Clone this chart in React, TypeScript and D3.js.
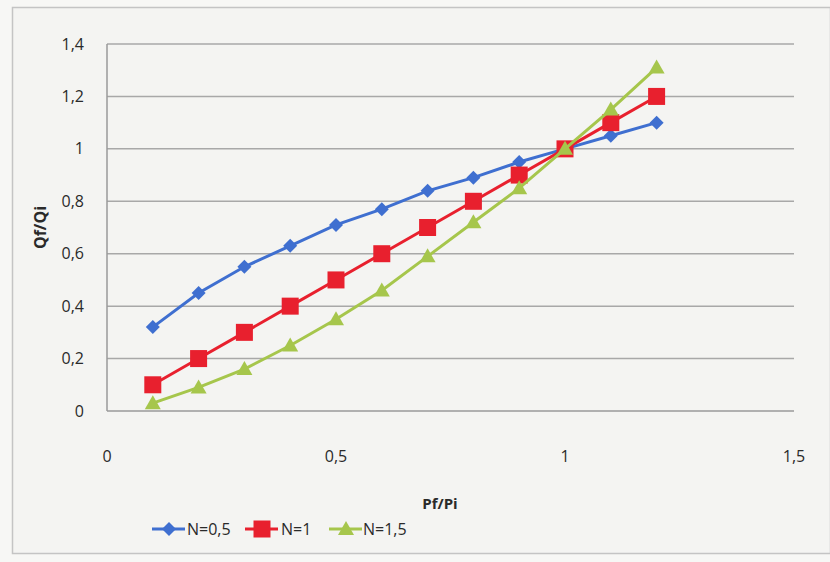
import React from "react";
import * as d3 from "d3";

const xValues = [0.1, 0.2, 0.3, 0.4, 0.5, 0.6, 0.7, 0.8, 0.9, 1.0, 1.1, 1.2];
const seriesN05 = [0.32, 0.45, 0.55, 0.63, 0.71, 0.77, 0.84, 0.89, 0.95, 1.0, 1.05, 1.1];
const seriesN1 = [0.1, 0.2, 0.3, 0.4, 0.5, 0.6, 0.7, 0.8, 0.9, 1.0, 1.1, 1.2];
const seriesN15 = [0.03, 0.09, 0.16, 0.25, 0.35, 0.46, 0.59, 0.72, 0.85, 1.0, 1.15, 1.31];
const seriesNames = ["N=0,5", "N=1", "N=1,5"];
const yTicks = [0, 0.2, 0.4, 0.6, 0.8, 1, 1.2, 1.4];
const xTicks = [0, 0.5, 1, 1.5];
const colors = ["#3f6fd0", "#e8202e", "#a6c64c"];

const fmt = (v: number) => String(v).replace(".", ",");
const FONT = "'Open Sans', 'Noto Sans', sans-serif";

function Marker({ kind, x, y, color }: { kind: number; x: number; y: number; color: string }) {
  if (kind === 0) {
    const s = 7;
    return <path d={`M${x},${y - s}L${x + s},${y}L${x},${y + s}L${x - s},${y}Z`} fill={color} />;
  }
  if (kind === 1) {
    const s = 8.5;
    return <rect x={x - s} y={y - s} width={2 * s} height={2 * s} fill={color} />;
  }
  const s = 8;
  return <path d={`M${x},${y - s}L${x + s},${y + s * 0.75}L${x - s},${y + s * 0.75}Z`} fill={color} />;
}

export default function App() {
  const W = 830, H = 562;
  const x = d3.scaleLinear().domain([0, 1.5]).range([107, 794]);
  const y = d3.scaleLinear().domain([0, 1.4]).range([411, 44]);
  const all = [seriesN05, seriesN1, seriesN15];
  const line = d3.line<number>().x((_, i) => x(xValues[i])).y((d) => y(d));

  const legendItems = [
    { lx: 152, tx: 187 },
    { lx: 245, tx: 281 },
    { lx: 329, tx: 363 },
  ];

  return (
    <svg width={W} height={H} style={{ position: "absolute", left: 0, top: 0 }} fontFamily={FONT}>
      <rect x={0} y={0} width={W} height={H} fill="#f7f7f5" />
      <rect x={12.5} y={7.5} width={W - 12} height={546} fill="#f4f4f2" stroke="#c4c4c4" strokeWidth={1.5} />
      {yTicks.map((t) => (
        <g key={t}>
          {t > 0 && <line x1={x(0)} x2={x(1.5)} y1={y(t)} y2={y(t)} stroke="#a8a8a8" strokeWidth={1.5} />}
          <text x={84} y={y(t)} dy="0.35em" textAnchor="end" fontSize={16} fill="#2a2a2a">{fmt(t)}</text>
        </g>
      ))}
      <line x1={x(0)} x2={x(0)} y1={y(1.4)} y2={y(0)} stroke="#9a9a9a" strokeWidth={1.5} />
      <line x1={x(0)} x2={x(1.5)} y1={y(0)} y2={y(0)} stroke="#9a9a9a" strokeWidth={1.5} />
      {xTicks.map((t) => (
        <text key={t} x={x(t)} y={456} dy="0.35em" textAnchor="middle" fontSize={16} fill="#2a2a2a">{fmt(t)}</text>
      ))}
      <text transform={`translate(40,${y(0.7)}) rotate(-90)`} textAnchor="middle" dy="0.35em" fontSize={16} fontWeight="bold" fill="#2a2a2a">Qf/Qi</text>
      <text x={440} y={504} textAnchor="middle" dy="0.35em" fontSize={15} fontWeight="bold" fill="#2a2a2a">Pf/Pi</text>
      {all.map((s, k) => (
        <g key={k}>
          <path d={line(s) || ""} fill="none" stroke={colors[k]} strokeWidth={3} />
          {s.map((v, i) => (
            <Marker key={i} kind={k} x={x(xValues[i])} y={y(v)} color={colors[k]} />
          ))}
        </g>
      ))}
      {legendItems.map((it, k) => (
        <g key={k}>
          <line x1={it.lx} x2={it.lx + 33} y1={529} y2={529} stroke={colors[k]} strokeWidth={3} />
          <Marker kind={k} x={it.lx + 17} y={529} color={colors[k]} />
          <text x={it.tx} y={529} dy="0.35em" fontSize={16} fill="#2a2a2a">{seriesNames[k]}</text>
        </g>
      ))}
    </svg>
  );
}
